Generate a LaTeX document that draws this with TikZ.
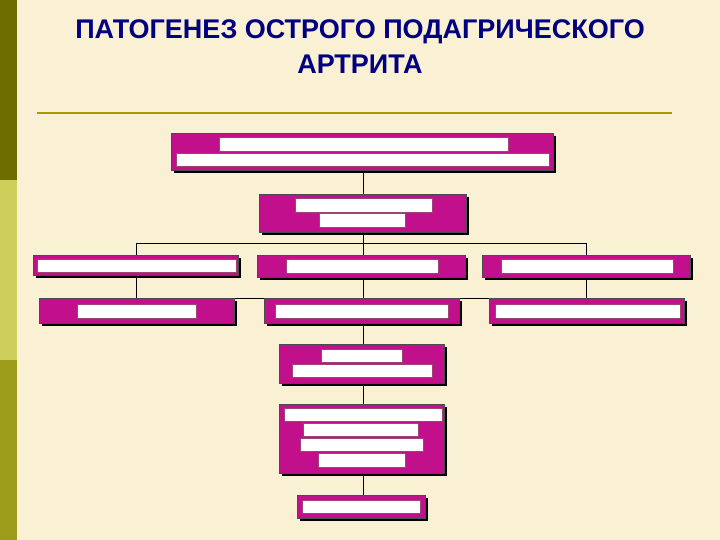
\documentclass[tikz,border=0pt]{standalone}
\usepackage{fontspec}
\setmainfont{Liberation Sans}
\begin{document}
\begin{tikzpicture}[x=1pt,y=-1pt,
 box/.style={fill=magenta!80!violet!90!black,draw=black!70,line width=0.6pt},
 bar/.style={fill=white,draw=magenta!60!black,line width=0.3pt},
 ln/.style={draw=black,line width=0.6pt}]
\definecolor{bg}{RGB}{250,240,212}
\definecolor{s1}{RGB}{110,110,0}
\definecolor{s2}{RGB}{206,206,90}
\definecolor{s3}{RGB}{156,156,26}
\definecolor{boxc}{RGB}{194,16,140}
\tikzset{box/.style={fill=boxc,draw=black!70,line width=0.6pt}}
\fill[bg] (0,0) rectangle (720,540);
\useasboundingbox (0,0) rectangle (720,540);
\fill[s1] (0,0) rectangle (17,180);
\fill[s2] (0,180) rectangle (17,360);
\fill[s3] (0,360) rectangle (17,540);
\node[font=\bfseries\fontsize{27}{35}\selectfont,text=blue!50!black,align=center,inner sep=0] (title) at (360,47) {ПАТОГЕНЕЗ ОСТРОГО ПОДАГРИЧЕСКОГО\\АРТРИТА};
\draw[olive!80!yellow,line width=1.3pt] (37,113) -- (672,113);
\newcommand{\mybox}[5]{\fill[black] (#2+3,#3+3) rectangle (#4+3,#5+3);
 \path[box] (#2,#3) rectangle (#4,#5);
 \coordinate (#1) at ({(#2+#4)/2},{(#3+#5)/2});}
\coordinate (h1l) at (136,243); \coordinate (h1r) at (586,243);
\coordinate (h2l) at (136,298); \coordinate (h2r) at (586,298);
\draw[ln] (363,170) -- (363,194);
\draw[ln] (363,232) -- (363,243);
\draw[ln] (h1l) -- (h1r);
\draw[ln] (h1l) -- (136,255) (h1r) -- (586,255) (363,243) -- (363,255);
\draw[ln] (h2l) -- (h2r);
\draw[ln] (136,277) -- (h2l) (586,277) -- (h2r) (363,277) -- (363,298);
\draw[ln] (363,323) -- (363,344) (363,383) -- (363,404) (363,473) -- (363,495);
\mybox{a}{171}{133}{553}{170}
\path[bar] (219,137) rectangle (508,151); \path[bar] (176,153) rectangle (549,166);
\mybox{b}{259}{194}{466}{232}
\path[bar] (295,198) rectangle (432,212); \path[bar] (319,213) rectangle (405,227);
\mybox{c1}{33}{255}{238}{275}
\path[bar] (37,259) rectangle (236,272);
\mybox{c2}{257}{255}{465}{277}
\path[bar] (286,259) rectangle (438,273);
\mybox{c3}{482}{255}{690}{277}
\path[bar] (501,259) rectangle (673,273);
\mybox{d1}{39}{298}{234}{323}
\path[bar] (77,304) rectangle (196,318);
\mybox{d2}{264}{298}{459}{323}
\path[bar] (275,304) rectangle (448,318);
\mybox{d3}{489}{298}{684}{323}
\path[bar] (495,304) rectangle (680,318);
\mybox{e}{279}{344}{444}{383}
\path[bar] (321,349) rectangle (402,362); \path[bar] (292,364) rectangle (432,377);
\mybox{f}{279}{404}{444}{473}
\path[bar] (284,408) rectangle (442,421); \path[bar] (303,423) rectangle (418,436);
\path[bar] (300,438) rectangle (423,451); \path[bar] (318,453) rectangle (405,467);
\mybox{g}{297}{495}{425}{518}
\path[bar] (302,500) rectangle (420,513);
\end{tikzpicture}
\end{document}
